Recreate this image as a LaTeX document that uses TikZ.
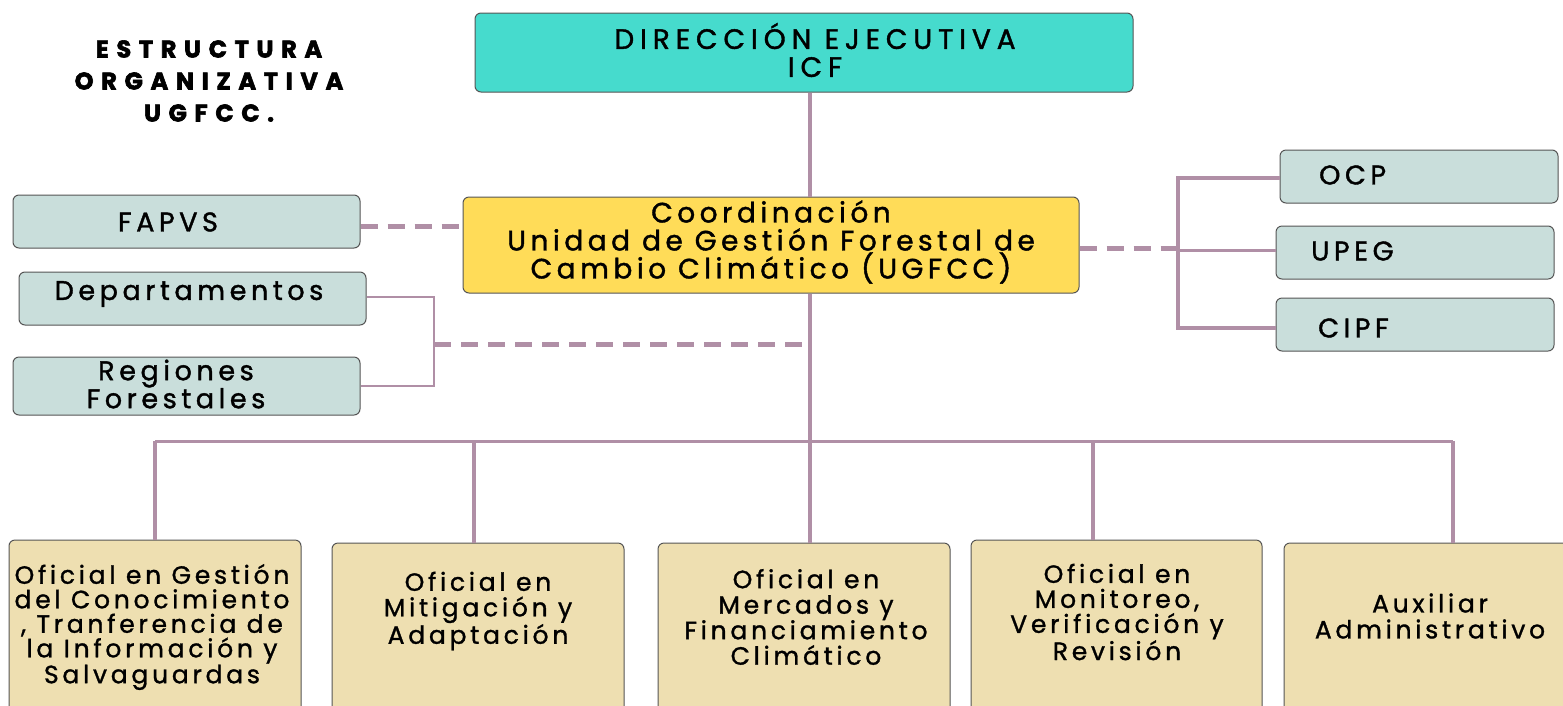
\documentclass[tikz,border=0pt]{standalone}
\usepackage{fontspec}
\setmainfont{Poppins}
\newfontfamily\ttlfont[LetterSpace=32,FakeBold=2.5]{Poppins}
\newfontfamily\dirfont[LetterSpace=21,FakeBold=1.4]{Poppins}
\newfontfamily\coordfont[LetterSpace=16,FakeBold=1.4]{Poppins}
\newfontfamily\boxfont[LetterSpace=17,FakeBold=1.4]{Poppins}
\newfontfamily\botfont[LetterSpace=15,FakeBold=1.2]{Poppins}
\definecolor{teal1}{HTML}{46DBCD}
\definecolor{yel1}{HTML}{FFDC58}
\definecolor{gray1}{HTML}{C9DEDB}
\definecolor{tan1}{HTML}{EEDFB1}
\definecolor{mauve}{HTML}{B08FA6}
\definecolor{edge1}{HTML}{555555}
\tikzset{
  orgbox/.style={draw=edge1, line width=1pt, rounded corners=6pt, inner sep=0pt},
  txt/.style={inner sep=0pt, align=center, font=\boxfont\fontsize{27}{28}\selectfont},
  btxt/.style={inner sep=0pt, align=center, font=\botfont\fontsize{25}{24.5}\selectfont},
  conn/.style={draw=mauve, line width=3.5pt},
  thinconn/.style={draw=mauve, line width=2.5pt},
  dashconn/.style={draw=mauve, line width=5pt, dash pattern=on 17pt off 10pt},
}
\begin{document}
\begin{tikzpicture}[x=1pt,y=-1pt]
\useasboundingbox (0,0) rectangle (1563,705);
\fill[white] (0,0) rectangle (1563,705);
% title
\node[inner sep=0pt, align=center, font=\ttlfont\bfseries\fontsize{24}{32}\selectfont] (title) at (209,81) {ESTRUCTURA\\ORGANIZATIVA\\UGFCC.};
% boxes
\node[orgbox, fill=teal1, minimum width=658pt, minimum height=79pt] (dir) at (804,52.5) {};
\node[inner sep=0pt, align=center, font=\dirfont\fontsize{28}{28}\selectfont] (dirt) at (815,50) {DIRECCIÓN EJECUTIVA\\ICF};
\node[orgbox, fill=yel1, minimum width=616pt, minimum height=96pt] (coord) at (771,245) {};
\node[inner sep=0pt, align=center, font=\coordfont\fontsize{28}{28}\selectfont] (coordt) at (771,242) {Coordinación\\Unidad de Gestión Forestal de\\Cambio Climático (UGFCC)};
\node[orgbox, fill=gray1, minimum width=347pt, minimum height=53pt] (fapvs) at (186.5,221.5) {};
\node[txt] (fapvst) at (168,222) {FAPVS};
\node[orgbox, fill=gray1, minimum width=347pt, minimum height=53pt] (dep) at (192.5,298.5) {};
\node[txt] (dept) at (189,294) {Departamentos};
\node[orgbox, fill=gray1, minimum width=347pt, minimum height=58pt] (reg) at (186.5,386) {};
\node[txt] (regt) at (176,384) {Regiones\\Forestales};
\node[orgbox, fill=gray1, minimum width=278pt, minimum height=53pt] (ocp) at (1419,176.5) {};
\node[txt, anchor=west] (ocpt) at (1319,175) {OCP};
\node[orgbox, fill=gray1, minimum width=278pt, minimum height=53pt] (upeg) at (1415,252.5) {};
\node[txt, anchor=west] (upegt) at (1311,251) {UPEG};
\node[orgbox, fill=gray1, minimum width=278pt, minimum height=53pt] (cipf) at (1415,324.5) {};
\node[txt, anchor=west] (cipft) at (1318,328) {CIPF};
% bottom boxes
\node[orgbox, fill=tan1, minimum width=292pt, minimum height=200pt] (b1) at (155,640) {};
\node[btxt] (b1t) at (152,627) {Oficial en Gestión\\del Conocimiento\\, Tranferencia de\\la Información y\\Salvaguardas};
\node[orgbox, fill=tan1, minimum width=292pt, minimum height=200pt] (b2) at (478,643) {};
\node[btxt, font=\botfont\fontsize{25}{25.5}\selectfont] (b2t) at (478,611) {Oficial en\\Mitigación y\\Adaptación};
\node[orgbox, fill=tan1, minimum width=292pt, minimum height=200pt] (b3) at (804,643) {};
\node[btxt, font=\botfont\fontsize{25}{25.5}\selectfont] (b3t) at (806,617) {Oficial en\\Mercados y\\Financiamiento\\Climático};
\node[orgbox, fill=tan1, minimum width=291pt, minimum height=200pt] (b4) at (1116.5,640) {};
\node[btxt, font=\botfont\fontsize{25}{25}\selectfont] (b4t) at (1117,612) {Oficial en\\Monitoreo,\\Verificación y\\Revisión};
\node[orgbox, fill=tan1, minimum width=292pt, minimum height=200pt] (b5) at (1430,643) {};
\node[btxt, font=\botfont\fontsize{25}{26}\selectfont] (b5t) at (1430,616) {Auxiliar\\Administrativo};
% coordinates
\coordinate (spine) at (810,0);
\coordinate (busy) at (810,441);
\coordinate (lj) at (434,344);
\coordinate (rj) at (1178,248);
% connectors
\draw[conn] (dir.south -| spine) -- (coord.north -| spine);
\draw[conn] (coord.south -| spine) -- (busy);
\draw[conn, line width=3pt] (b1.north |- busy) -- ([xshift=23pt]b5.north |- busy);
\draw[conn] (b1.north |- busy) -- (b1.north);
\draw[conn] ([xshift=-4pt]b2.north |- busy) -- ([xshift=-4pt]b2.north);
\draw[conn] (busy) -- (b3.north -| spine);
\draw[conn] ([xshift=-23.5pt]b4.north |- busy) -- ([xshift=-23.5pt]b4.north);
\draw[conn] ([xshift=23pt]b5.north |- busy) -- ([xshift=23pt]b5.north);
\draw[dashconn] ([yshift=-4.5pt]fapvs.east) -- ([yshift=-4.5pt]fapvs.east -| coord.west);
\draw[thinconn] ([yshift=1.5pt]dep.east) -| (lj |- reg.east) -- (reg.east);
\draw[dashconn] (lj) -- (lj -| spine);
\draw[dashconn] ([yshift=-3pt]coord.east) -- ([yshift=-3pt]coord.east -| rj);
\draw[conn] ([yshift=-1.5pt]ocp.west) -| ([yshift=-3.5pt]rj |- cipf.west) -- ([yshift=-3.5pt]cipf.west);
\draw[conn] ([yshift=2pt]upeg.west) -- ([yshift=2pt]upeg.west -| rj);
\end{tikzpicture}
\end{document}
